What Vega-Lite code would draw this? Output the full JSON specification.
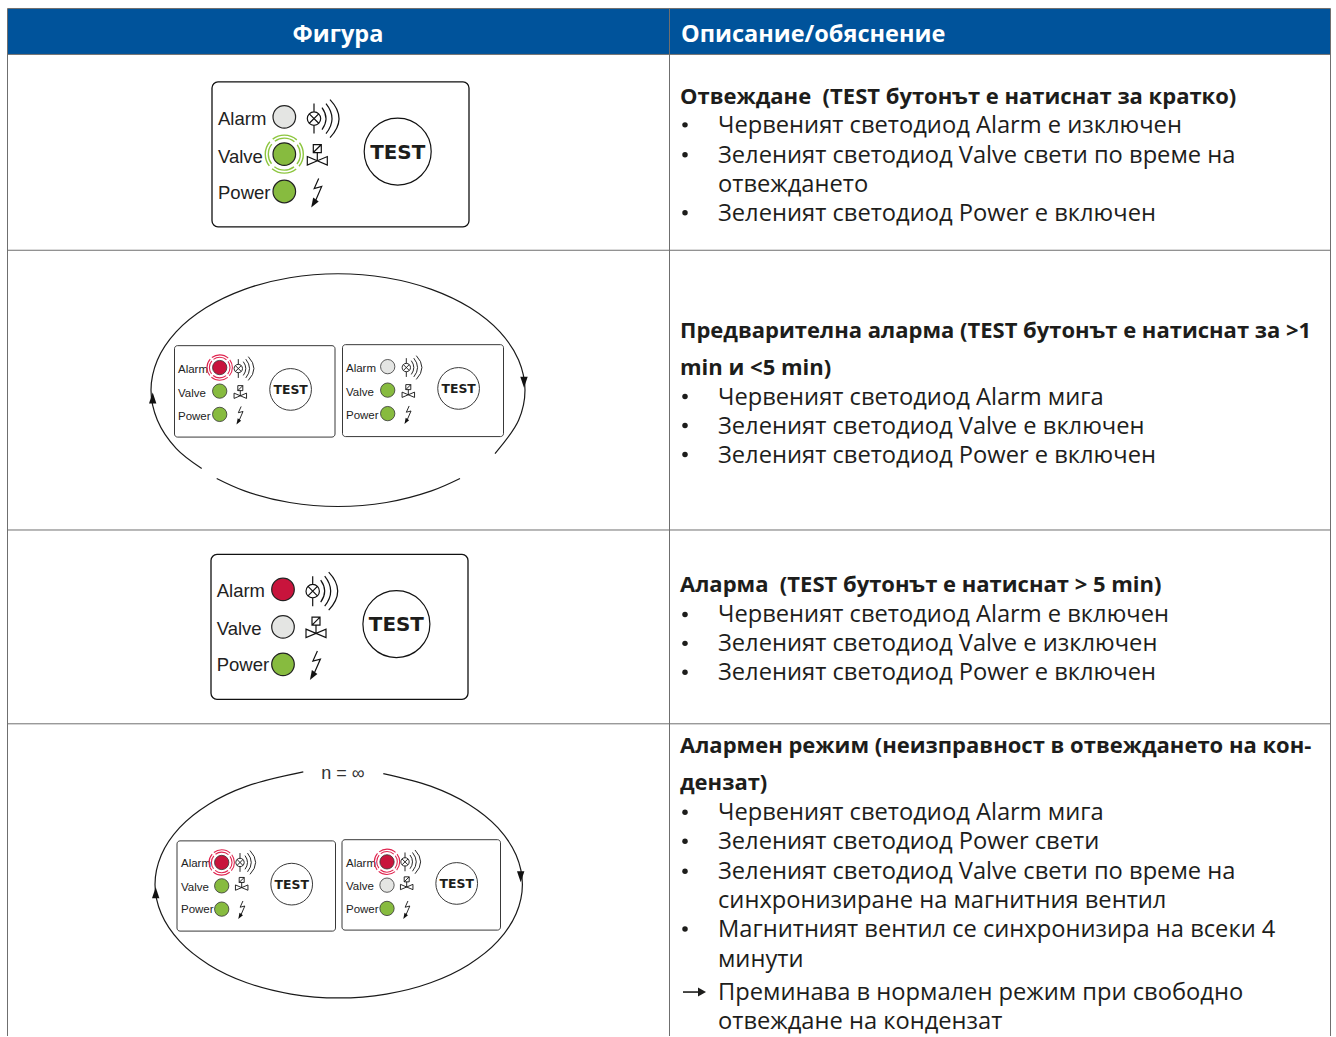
{
"$schema":"https://vega.github.io/schema/vega-lite/v6.json",
"width":1336,"height":1037,"padding":0,
"autosize":{"type":"fit","contains":"padding"},
"background":"white",
"config":{"view":{"stroke":null},"point":{"opacity":1}},
"datasets":{
"panels":[
{"panel":"A","size":"big","x":212,"x2":469,"y":82,"y2":227},
{"panel":"B","size":"small","x":174.5,"x2":335,"y":346,"y2":437.5},
{"panel":"C","size":"small","x":342.5,"x2":503.5,"y":345,"y2":437},
{"panel":"D","size":"big","x":211,"x2":468,"y":555,"y2":700},
{"panel":"E","size":"small","x":177,"x2":335.5,"y":841.7,"y2":932},
{"panel":"F","size":"small","x":342,"x2":500.5,"y":840.5,"y2":931}
],
"buttons":[
{"panel":"A","size":"big","x":397.7,"y":151.7,"by":159,"t":"TEST"},
{"panel":"B","size":"small","x":290.6,"y":389.8,"by":394.5,"t":"TEST"},
{"panel":"C","size":"small","x":458.6,"y":388.8,"by":393.5,"t":"TEST"},
{"panel":"D","size":"big","x":396.4,"y":624.7,"by":632,"t":"TEST"},
{"panel":"E","size":"small","x":291.7,"y":885,"by":889.5,"t":"TEST"},
{"panel":"F","size":"small","x":456.7,"y":884.3,"by":889,"t":"TEST"}
],
"leds":[
{"panel":"A","size":"big","led":"Alarm","state":"off","blink":false,"x":284.3,"y":117},
{"panel":"A","size":"big","led":"Valve","state":"green","blink":true,"x":284.3,"y":154.3},
{"panel":"A","size":"big","led":"Power","state":"green","blink":false,"x":284.3,"y":191.7},
{"panel":"B","size":"small","led":"Alarm","state":"red","blink":true,"x":219.7,"y":367.9},
{"panel":"B","size":"small","led":"Valve","state":"green","blink":false,"x":219.7,"y":391.5},
{"panel":"B","size":"small","led":"Power","state":"green","blink":false,"x":219.7,"y":414.8},
{"panel":"C","size":"small","led":"Alarm","state":"off","blink":false,"x":387.7,"y":367},
{"panel":"C","size":"small","led":"Valve","state":"green","blink":false,"x":387.7,"y":390.5},
{"panel":"C","size":"small","led":"Power","state":"green","blink":false,"x":387.7,"y":414},
{"panel":"D","size":"big","led":"Alarm","state":"red","blink":false,"x":283,"y":590},
{"panel":"D","size":"big","led":"Valve","state":"off","blink":false,"x":283,"y":627.5},
{"panel":"D","size":"big","led":"Power","state":"green","blink":false,"x":283,"y":665},
{"panel":"E","size":"small","led":"Alarm","state":"red","blink":true,"x":221.7,"y":863.3},
{"panel":"E","size":"small","led":"Valve","state":"green","blink":false,"x":221.7,"y":886.7},
{"panel":"E","size":"small","led":"Power","state":"green","blink":false,"x":221.7,"y":910},
{"panel":"F","size":"small","led":"Alarm","state":"red","blink":true,"x":387,"y":862.7},
{"panel":"F","size":"small","led":"Valve","state":"off","blink":false,"x":387,"y":886},
{"panel":"F","size":"small","led":"Power","state":"green","blink":false,"x":387,"y":909.3}
],
"labels":[
{"size":"big","t":"Alarm","x":218,"y":125},{"size":"big","t":"Valve","x":218,"y":162.7},{"size":"big","t":"Power","x":218,"y":199},
{"size":"small","t":"Alarm","x":178,"y":373},{"size":"small","t":"Valve","x":178,"y":397},{"size":"small","t":"Power","x":178,"y":420},
{"size":"small","t":"Alarm","x":346,"y":372.5},{"size":"small","t":"Valve","x":346,"y":396},{"size":"small","t":"Power","x":346,"y":419.5},
{"size":"big","t":"Alarm","x":216.7,"y":598},{"size":"big","t":"Valve","x":216.7,"y":635.7},{"size":"big","t":"Power","x":216.7,"y":672},
{"size":"small","t":"Alarm","x":181,"y":868},{"size":"small","t":"Valve","x":181,"y":891.7},{"size":"small","t":"Power","x":181,"y":914.3},
{"size":"small","t":"Alarm","x":346,"y":867.5},{"size":"small","t":"Valve","x":346,"y":891},{"size":"small","t":"Power","x":346,"y":914}
],
"lamps":[
{"size":"big","x":314,"y":118.7},{"size":"small","x":238.3,"y":368.9},{"size":"small","x":406.3,"y":367.9},
{"size":"big","x":312.7,"y":591.7},{"size":"small","x":240,"y":863.3},{"size":"small","x":405,"y":862.7}
],
"valves":[
{"size":"big","x":317.3,"y":160.7},{"size":"small","x":240.3,"y":396},{"size":"small","x":408.3,"y":395},
{"size":"big","x":316,"y":633.7},{"size":"small","x":241.7,"y":888.3},{"size":"small","x":406.7,"y":887.7}
],
"bolts":[
{"size":"big","x":316.7,"y":191.7},{"size":"small","x":239.9,"y":415},{"size":"small","x":407.9,"y":414.5},
{"size":"big","x":315.4,"y":664.7},{"size":"small","x":241.7,"y":910},{"size":"small","x":406.7,"y":910}
],
"loops":[
{"arc":"a1","o":1,"x":201.7,"y":469},{"arc":"a1","o":2,"x":176.1,"y":448.8},{"arc":"a1","o":3,"x":157.4,"y":420.7},{"arc":"a1","o":4,"x":151,"y":390.5},{"arc":"a1","o":5,"x":157.4,"y":360.3},{"arc":"a1","o":6,"x":176.1,"y":332.2},{"arc":"a1","o":7,"x":205.8,"y":308.1},{"arc":"a1","o":8,"x":244.5,"y":289.6},{"arc":"a1","o":9,"x":289.6,"y":278},{"arc":"a1","o":10,"x":338,"y":274},{"arc":"a1","o":11,"x":386.4,"y":278},{"arc":"a1","o":12,"x":431.5,"y":289.6},{"arc":"a1","o":13,"x":470.2,"y":308.1},{"arc":"a1","o":14,"x":499.9,"y":332.2},{"arc":"a1","o":15,"x":518.6,"y":360.3},{"arc":"a1","o":16,"x":525,"y":390.5},{"arc":"a1","o":17,"x":518.6,"y":420.7},{"arc":"a1","o":18,"x":495,"y":454},
{"arc":"a2","o":1,"x":216.7,"y":479},{"arc":"a2","o":2,"x":244.5,"y":491.4},{"arc":"a2","o":3,"x":289.6,"y":503},{"arc":"a2","o":4,"x":338,"y":507},{"arc":"a2","o":5,"x":386.4,"y":503},{"arc":"a2","o":6,"x":431.5,"y":491.4},{"arc":"a2","o":7,"x":460,"y":479},
{"arc":"b","o":1,"x":383.3,"y":774.3},{"arc":"b","o":2,"x":430.6,"y":786.9},{"arc":"b","o":3,"x":468.6,"y":805},{"arc":"b","o":4,"x":497.8,"y":828.5},{"arc":"b","o":5,"x":516.1,"y":855.9},{"arc":"b","o":6,"x":522.4,"y":885.3},{"arc":"b","o":7,"x":516.1,"y":914.7},{"arc":"b","o":8,"x":497.8,"y":942.1},{"arc":"b","o":9,"x":468.6,"y":965.6},{"arc":"b","o":10,"x":430.6,"y":983.7},{"arc":"b","o":11,"x":386.3,"y":995},{"arc":"b","o":12,"x":338.7,"y":998.9},{"arc":"b","o":13,"x":291.1,"y":995},{"arc":"b","o":14,"x":246.8,"y":983.7},{"arc":"b","o":15,"x":208.8,"y":965.6},{"arc":"b","o":16,"x":179.6,"y":942.1},{"arc":"b","o":17,"x":161.3,"y":914.7},{"arc":"b","o":18,"x":155,"y":885.3},{"arc":"b","o":19,"x":161.3,"y":855.9},{"arc":"b","o":20,"x":179.6,"y":828.5},{"arc":"b","o":21,"x":208.8,"y":805},{"arc":"b","o":22,"x":246.8,"y":786.9},{"arc":"b","o":23,"x":303.3,"y":772.7}
],
"grid":[
{"x":7.5,"x2":7.5,"y":8.5,"y2":1037},{"x":669.5,"x2":669.5,"y":8.5,"y2":1037},{"x":1330.5,"x2":1330.5,"y":8.5,"y2":1037},
{"x":7.5,"x2":1330.5,"y":8.5,"y2":8.5},{"x":7.5,"x2":1330.5,"y":54.5,"y2":54.5},{"x":7.5,"x2":1330.5,"y":250.5,"y2":250.5},{"x":7.5,"x2":1330.5,"y":530.5,"y2":530.5},{"x":7.5,"x2":1330.5,"y":724.5,"y2":724.5}
],
"boldLines":[
{"t":"Отвеждане \u00a0(TEST бутонът е натиснат за кратко)","x":680,"y":104},
{"t":"Предварителна аларма (TEST бутонът е натиснат за >1","x":680,"y":338},
{"t":"min и <5 min)","x":680,"y":375},
{"t":"Аларма \u00a0(TEST бутонът е натиснат > 5 min)","x":680,"y":593},
{"t":"Алармен режим (неизправност в отвеждането на кон-","x":680,"y":754},
{"t":"дензат)","x":680,"y":791}
],
"lines":[
{"t":"Червеният светодиод Alarm е изключен","y":133,"b":1},
{"t":"Зеленият светодиод Valve свети по време на","y":163,"b":1},
{"t":"отвеждането","y":192,"b":0},
{"t":"Зеленият светодиод Power е включен","y":221,"b":1},
{"t":"Червеният светодиод Alarm мига","y":405,"b":1},
{"t":"Зеленият светодиод Valve е включен","y":434,"b":1},
{"t":"Зеленият светодиод Power е включен","y":463,"b":1},
{"t":"Червеният светодиод Alarm е включен","y":623,"b":1},
{"t":"Зеленият светодиод Valve е изключен","y":652,"b":1},
{"t":"Зеленият светодиод Power е включен","y":681,"b":1},
{"t":"Червеният светодиод Alarm мига","y":821,"b":1},
{"t":"Зеленият светодиод Power свети","y":850,"b":1},
{"t":"Зеленият светодиод Valve свети по време на","y":880,"b":1},
{"t":"синхронизиране на магнитния вентил","y":909,"b":0},
{"t":"Магнитният вентил се синхронизира на всеки 4","y":938,"b":1},
{"t":"минути","y":968,"b":0},
{"t":"Преминава в нормален режим при свободно","y":1001,"b":0},
{"t":"отвеждане на кондензат","y":1030,"b":0}
]
},
"encoding":{
"x":{"field":"x","type":"quantitative","axis":null,"scale":{"domain":[0,1336],"nice":false,"zero":false}},
"y":{"field":"y","type":"quantitative","axis":null,"scale":{"domain":[1037,0],"nice":false,"zero":false}}
},
"layer":[
{"data":{"values":[{"x":7.5,"x2":1330.5,"y":9,"y2":54}]},"mark":{"type":"rect","fill":"#00539b"},"encoding":{"x2":{"field":"x2"},"y2":{"field":"y2"}}},
{"data":{"name":"grid"},"mark":{"type":"rule","stroke":"#6f6f6f","strokeWidth":1},"encoding":{"x2":{"field":"x2"},"y2":{"field":"y2"}}},
{"data":{"values":[{"t":"Фигура","x":338,"y":42}]},"mark":{"type":"text","align":"center","baseline":"alphabetic","font":"Open Sans","fontWeight":"bold","fontSize":23.5,"fill":"white"},"encoding":{"text":{"field":"t"}}},
{"data":{"values":[{"t":"Описание/обяснение","x":681,"y":42}]},"mark":{"type":"text","align":"left","baseline":"alphabetic","font":"Open Sans","fontWeight":"bold","fontSize":23.5,"fill":"white"},"encoding":{"text":{"field":"t"}}},
{"data":{"name":"boldLines"},"mark":{"type":"text","align":"left","baseline":"alphabetic","font":"Open Sans","fontWeight":"bold","fontSize":22,"fill":"#1d1d1b"},"encoding":{"text":{"field":"t"}}},
{"data":{"name":"lines"},"mark":{"type":"text","align":"left","baseline":"alphabetic","font":"Open Sans","fontSize":23.7,"fill":"#1d1d1b","xOffset":718},"encoding":{"x":{"value":0},"text":{"field":"t"}}},
{"data":{"name":"lines"},"transform":[{"filter":"datum.b==1"}],"mark":{"type":"point","shape":"circle","filled":true,"size":30,"fill":"#1d1d1b","xOffset":685,"yOffset":-8},"encoding":{"x":{"value":0}}},
{"data":{"values":[{"arrow":"a","o":1,"x":683,"y":993},{"arrow":"a","o":2,"x":700,"y":993}]},"mark":{"type":"line","stroke":"#1d1d1b","strokeWidth":1.6},"encoding":{"order":{"field":"o"}}},
{"data":{"values":[{"x":701,"y":993}]},"mark":{"type":"point","filled":true,"fill":"#1d1d1b","size":4,"strokeWidth":0,"shape":"M-3,-4.5L5,0L-3,4.5Z"}},
{"data":{"name":"loops"},"mark":{"type":"line","stroke":"#1a1a1a","strokeWidth":1.2,"interpolate":"catmull-rom"},"encoding":{"detail":{"field":"arc"},"order":{"field":"o"}}},
{"data":{"values":[{"x":152.7,"y":398.5},{"x":155.7,"y":893.5}]},"mark":{"type":"point","filled":true,"fill":"#111","size":4,"strokeWidth":0,"shape":"M-3.7,5.5L3.7,5.5L0,-5.5Z"}},
{"data":{"values":[{"x":524,"y":382.5},{"x":520.7,"y":877.5}]},"mark":{"type":"point","filled":true,"fill":"#111","size":4,"strokeWidth":0,"shape":"M-3.7,-5.5L3.7,-5.5L0,5.5Z"}},
{"data":{"values":[{"t":"n = ∞","x":343,"y":780}]},"mark":{"type":"text","align":"center","baseline":"alphabetic","font":"Liberation Sans","fontSize":18,"fill":"#333"},"encoding":{"text":{"field":"t"}}},
{"data":{"name":"panels"},"transform":[{"filter":"datum.size=='big'"}],"mark":{"type":"rect","fill":"white","stroke":"#111","strokeWidth":1.3,"cornerRadius":6},"encoding":{"x2":{"field":"x2"},"y2":{"field":"y2"}}},
{"data":{"name":"panels"},"transform":[{"filter":"datum.size=='small'"}],"mark":{"type":"rect","fill":"white","stroke":"#222","strokeWidth":0.9,"cornerRadius":3},"encoding":{"x2":{"field":"x2"},"y2":{"field":"y2"}}},
{"data":{"name":"buttons"},"transform":[{"filter":"datum.size=='big'"}],"mark":{"type":"point","shape":"circle","filled":false,"stroke":"#111","strokeWidth":1.2,"size":4489}},
{"data":{"name":"buttons"},"transform":[{"filter":"datum.size=='small'"}],"mark":{"type":"point","shape":"circle","filled":false,"stroke":"#222","strokeWidth":0.9,"size":1739}},
{"data":{"name":"buttons"},"transform":[{"filter":"datum.size=='big'"}],"mark":{"type":"text","align":"center","baseline":"alphabetic","font":"DejaVu Sans","fontWeight":"bold","fontSize":19.9,"fill":"#1d1d1b"},"encoding":{"y":{"field":"by","type":"quantitative"},"text":{"field":"t"}}},
{"data":{"name":"buttons"},"transform":[{"filter":"datum.size=='small'"}],"mark":{"type":"text","align":"center","baseline":"alphabetic","font":"DejaVu Sans","fontWeight":"bold","fontSize":12.4,"fill":"#1d1d1b"},"encoding":{"y":{"field":"by","type":"quantitative"},"text":{"field":"t"}}},
{"data":{"name":"labels"},"transform":[{"filter":"datum.size=='big'"}],"mark":{"type":"text","align":"left","baseline":"alphabetic","font":"Liberation Sans","fontSize":18.5,"fill":"#222"},"encoding":{"text":{"field":"t"}}},
{"data":{"name":"labels"},"transform":[{"filter":"datum.size=='small'"}],"mark":{"type":"text","align":"left","baseline":"alphabetic","font":"Liberation Sans","fontSize":11.5,"fill":"#222"},"encoding":{"text":{"field":"t"}}},
{"data":{"name":"lamps"},"transform":[{"filter":"datum.size=='big'"}],"mark":{"type":"point","filled":false,"stroke":"#111","strokeWidth":1.2,"size":4,"shape":"M-6.7,0A6.7,6.7,0,1,1,6.7,0A6.7,6.7,0,1,1,-6.7,0ZM-4.7,-4.7L4.7,4.7M-4.7,4.7L4.7,-4.7M0,-15L0,-6.7M0,6.7L0,15M8,-11Q16,0,8,11M12,-15Q24,0,12,15M16,-19Q34,0,16,19"}},
{"data":{"name":"lamps"},"transform":[{"filter":"datum.size=='small'"}],"mark":{"type":"point","filled":false,"stroke":"#111","strokeWidth":0.9,"size":1.5625,"shape":"M-6.7,0A6.7,6.7,0,1,1,6.7,0A6.7,6.7,0,1,1,-6.7,0ZM-4.7,-4.7L4.7,4.7M-4.7,4.7L4.7,-4.7M0,-15L0,-6.7M0,6.7L0,15M8,-11Q16,0,8,11M12,-15Q24,0,12,15M16,-19Q34,0,16,19"}},
{"data":{"name":"valves"},"transform":[{"filter":"datum.size=='big'"}],"mark":{"type":"point","filled":false,"stroke":"#111","strokeWidth":1.2,"size":4,"shape":"M-4,-16L4,-16L4,-8L-4,-8ZM-4,-8L4,-16M0,-8L0,0M-10,-4L10,4.5L10,-4L-10,4.5Z"}},
{"data":{"name":"valves"},"transform":[{"filter":"datum.size=='small'"}],"mark":{"type":"point","filled":false,"stroke":"#111","strokeWidth":0.9,"size":1.5625,"shape":"M-4,-16L4,-16L4,-8L-4,-8ZM-4,-8L4,-16M0,-8L0,0M-10,-4L10,4.5L10,-4L-10,4.5Z"}},
{"data":{"name":"bolts"},"transform":[{"filter":"datum.size=='big'"}],"mark":{"type":"point","filled":false,"stroke":"#111","strokeWidth":1.2,"size":4,"shape":"M2,-13L-2.5,-3L5,-5L-1.5,10"}},
{"data":{"name":"bolts"},"transform":[{"filter":"datum.size=='small'"}],"mark":{"type":"point","filled":false,"stroke":"#111","strokeWidth":0.9,"size":1.5625,"shape":"M2,-13L-2.5,-3L5,-5L-1.5,10"}},
{"data":{"name":"bolts"},"transform":[{"filter":"datum.size=='big'"}],"mark":{"type":"point","filled":true,"fill":"#111","strokeWidth":0,"size":4,"shape":"M-3.5,6L2,10L-5.5,16Z"}},
{"data":{"name":"bolts"},"transform":[{"filter":"datum.size=='small'"}],"mark":{"type":"point","filled":true,"fill":"#111","strokeWidth":0,"size":1.5625,"shape":"M-3.5,6L2,10L-5.5,16Z"}},
{"data":{"name":"leds"},"transform":[{"filter":"datum.size=='big'"}],"mark":{"type":"point","shape":"circle","filled":true,"opacity":1,"stroke":"#222","strokeWidth":1.2,"size":510},"encoding":{"color":{"field":"state","type":"nominal","legend":null,"scale":{"domain":["off","green","red"],"range":["#e4e5e3","#87bb3f","#c8143c"]}}}},
{"data":{"name":"leds"},"transform":[{"filter":"datum.size=='small'"}],"mark":{"type":"point","shape":"circle","filled":true,"opacity":1,"stroke":"#333","strokeWidth":0.8,"size":205},"encoding":{"color":{"field":"state","type":"nominal","legend":null,"scale":{"domain":["off","green","red"],"range":["#e4e5e3","#87bb3f","#c8143c"]}}}},
{"data":{"name":"leds"},"transform":[{"filter":"datum.blink && datum.size=='big'"}],"mark":{"type":"point","shape":"circle","filled":false,"opacity":1,"stroke":"#8dc63f","strokeWidth":1.4,"size":1024,"strokeDash":[21,4.1],"strokeDashOffset":10.5}},
{"data":{"name":"leds"},"transform":[{"filter":"datum.blink && datum.size=='big'"}],"mark":{"type":"point","shape":"circle","filled":false,"opacity":1,"stroke":"#8dc63f","strokeWidth":1.4,"size":1444,"strokeDash":[26,3.85],"strokeDashOffset":13}},
{"data":{"name":"leds"},"transform":[{"filter":"datum.blink && datum.size=='small'"}],"mark":{"type":"point","shape":"circle","filled":false,"opacity":1,"stroke":"#e0244f","strokeWidth":1.1,"size":425,"strokeDash":[14,2.2],"strokeDashOffset":7}},
{"data":{"name":"leds"},"transform":[{"filter":"datum.blink && datum.size=='small'"}],"mark":{"type":"point","shape":"circle","filled":false,"opacity":1,"stroke":"#e0244f","strokeWidth":1.1,"size":645,"strokeDash":[17.7,2.25],"strokeDashOffset":8.8}}
]
}
